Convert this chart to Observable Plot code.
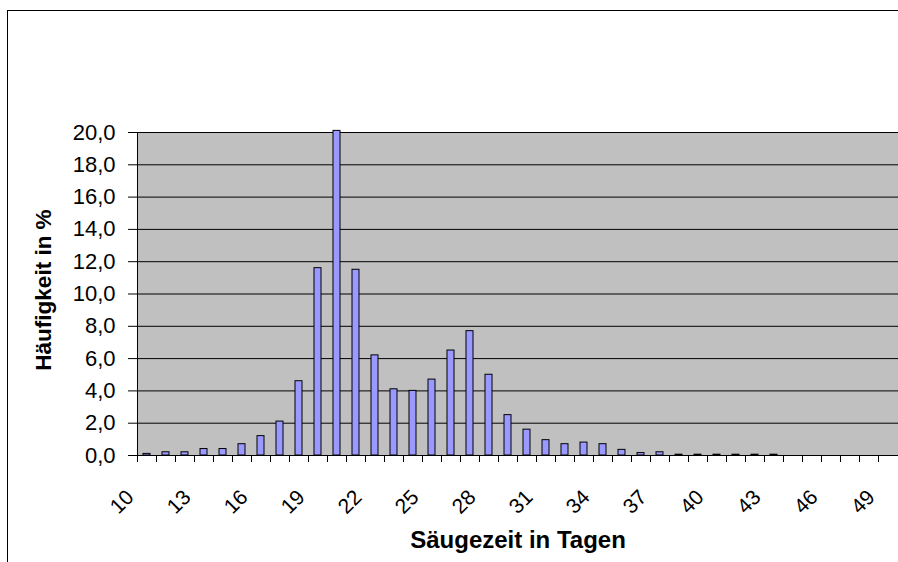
<!DOCTYPE html>
<html>
<head>
<meta charset="utf-8">
<script src="https://cdn.jsdelivr.net/npm/d3@7"></script>
<script src="https://cdn.jsdelivr.net/npm/@observablehq/plot@0.6"></script>
<style>
  html, body { margin: 0; padding: 0; background: #fff; overflow: hidden; }
  #wrap { position: relative; width: 898px; height: 562px; }
  #border { position: absolute; left: 7px; top: 10px; width: 1000px; height: 1000px; border: 1px solid #000; box-sizing: border-box; pointer-events: none; }
</style>
</head>
<body>
<div id="wrap"><div id="border"></div></div>
<script>
const days = [10,11,12,13,14,15,16,17,18,19,20,21,22,23,24,25,26,27,28,29,30,31,32,33,34,35,36,37,38,39,40,41,42,43,44,45,46,47,48,49];
const pct  = [0.1,0.2,0.2,0.4,0.4,0.7,1.2,2.1,4.6,11.6,20.1,11.5,6.2,4.1,4.0,4.7,6.5,7.7,5.0,2.5,1.6,0.95,0.7,0.8,0.7,0.35,0.15,0.2,0.05,0.05,0.05,0.05,0.05,0.05,0,0,0,0,0,0];
const xTickLabels = [10,13,16,19,22,25,28,31,34,37,40,43,46,49];
const yTicks = [0,2,4,6,8,10,12,14,16,18,20];
const xTitle = "Säugezeit in Tagen";
const yTitle = "Häufigkeit in %";

const data = days.map((d, i) => ({day: d, pct: pct[i]}));

const W = 898, H = 562, mL = 137, mR = 0, mT = 132, mB = 107;
const step = (W - mL - mR) / days.length;
const font = "'Liberation Sans', Arial, sans-serif";
const fmt = v => d3.format(".1f")(v).replace(".", ",");

const chart = Plot.plot({
  width: W, height: H,
  marginLeft: mL, marginRight: mR, marginTop: mT, marginBottom: mB,
  style: {fontFamily: font, fontSize: "21px", color: "#000", background: "transparent"},
  x: {type: "band", domain: days, paddingInner: 0.62, paddingOuter: 0.31, axis: null},
  y: {domain: [0, 20], axis: null},
  marks: [
    Plot.frame({fill: "#c0c0c0", stroke: null}),
    Plot.ruleY(yTicks, {stroke: "#000", strokeWidth: 1}),
    Plot.ruleX([days[0]], {dx: -step / 2, stroke: "#000", strokeWidth: 1}),
    Plot.barY(data, {x: "day", y: "pct", fill: "#9999ff", stroke: "#000", strokeWidth: 1, filter: d => d.pct > 0}),
    Plot.axisY({ticks: yTicks, tickFormat: fmt, tickSize: 9, tickPadding: 13, fontSize: 22, label: null}),
    Plot.axisX({ticks: days, tickSize: 7, fill: "none", label: null, dx: -step / 2}),
    Plot.text(xTickLabels, {x: d => d, frameAnchor: "bottom", rotate: -45, textAnchor: "end", dx: -12, dy: 43, fontSize: 21}),
    Plot.text([xTitle], {frameAnchor: "bottom", textAnchor: "middle", dy: 92, fontSize: 24, fontWeight: "bold"}),
    Plot.text([yTitle], {frameAnchor: "left", textAnchor: "middle", rotate: -90, dx: -94, dy: -4, fontSize: 22.5, fontWeight: "bold"})
  ]
});
document.getElementById("wrap").appendChild(chart);
chart.style.position = "absolute";
chart.style.left = "0";
chart.style.top = "0";
</script>
</body>
</html>
